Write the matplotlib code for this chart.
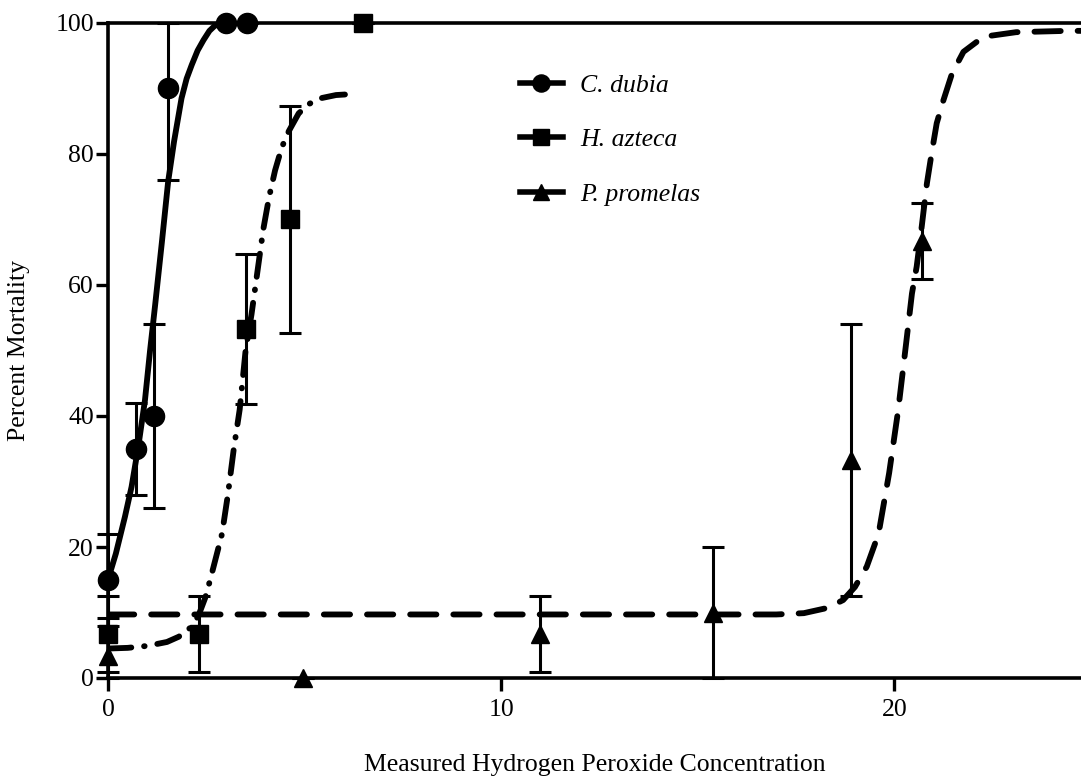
import numpy as np
import matplotlib
matplotlib.use("Agg")
import matplotlib.pyplot as plt
from matplotlib.lines import Line2D

plt.rcParams['font.family'] = ['Liberation Serif', 'DejaVu Serif']

# C. dubia - observed points
cd_x = [0, 0.71, 1.16, 1.53, 3.0, 3.53]
cd_y = [15, 35, 40, 90, 100, 100]
cd_err = [7, 7, 14, 14, 0, 0]
# fitted curve
cd_cx = [0, 0.2, 0.43, 0.6, 0.77, 0.94, 1.07, 1.2, 1.37, 1.53, 1.68, 1.87, 2.0, 2.13, 2.28, 2.43, 2.58, 2.72, 3.0, 3.53]
cd_cy = [15, 19, 24.6, 29.2, 35.3, 42.4, 50, 57, 66.5, 75.8, 81.9, 88.5, 91.5, 93.6, 95.8, 97.4, 98.8, 99.6, 100, 100]

# H. azteca
ha_x = [0, 2.32, 3.5, 4.62, 6.49]
ha_y = [6.7, 6.7, 53.3, 70, 100]
ha_err = [5.8, 5.8, 11.5, 17.3, 0]
ha_cx = [0, 0.5, 1.0, 1.5, 1.8, 2.1, 2.3, 2.47, 2.6, 2.75, 2.9, 3.05, 3.2, 3.35, 3.5, 3.65, 3.8, 3.95, 4.1,
         4.25, 4.42, 4.6, 4.85, 5.1, 5.4, 5.8, 6.35]
ha_cy = [4.5, 4.6, 4.9, 5.5, 6.3, 7.7, 9.5, 12.2, 15.0, 18.5, 22.0, 28.0, 35.0, 41.0, 50.0, 55.5, 62.0, 68.5, 73.5,
         77.5, 81.0, 83.5, 86.2, 87.6, 88.5, 89.0, 89.2]

# P. promelas
pp_x = [0, 4.97, 11.0, 15.4, 18.9, 20.7]
pp_y = [3.3, 0, 6.7, 10, 33.3, 66.7]
pp_err = [5.8, 0, 5.8, 10, 20.8, 5.8]
pp_cx = [0, 17.0, 17.7, 18.3, 18.7, 19.0, 19.3, 19.6, 19.87, 20.1, 20.3, 20.45, 20.57, 20.7, 20.83, 20.95, 21.08,
         21.25, 21.47, 21.76, 22.27, 23.1, 24.4, 25]
pp_cy = [9.7, 9.7, 9.9, 10.7, 11.9, 13.9, 17, 22, 31.3, 40.9, 51, 58.7, 62.8, 69, 75.5, 80.1, 84.7,
         88.2, 92.3, 95.6, 97.9, 98.6, 98.8, 98.8]

series = [
    ("C. dubia", cd_x, cd_y, cd_err, cd_cx, cd_cy, 'o', 14.5, '-'),
    ("H. azteca", ha_x, ha_y, ha_err, ha_cx, ha_cy, 's', 13.5, (0, (4, 2.2, 0.1, 2.2))),
    ("P. promelas", pp_x, pp_y, pp_err, pp_cx, pp_cy, '^', 13, (0, (4.5, 2.9))),
]

fig = plt.figure(figsize=(10.81, 7.78), dpi=100)
ax = fig.add_axes([108 / 1081, 100 / 778, 973 / 1081, 655 / 778])

handles = []
for name, x, y, err, cx, cy, mk, ms, ls in series:
    ax.plot(cx, cy, color='black', lw=4.2, ls=ls, dash_capstyle='round',
            solid_capstyle='round', zorder=2)
    y = np.array(y, dtype=float)
    err = np.array(err, dtype=float)
    lo = np.minimum(err, y)
    hi = np.minimum(err, 100 - y)
    ax.errorbar(x, y, yerr=[lo, hi], fmt='none', ecolor='black', elinewidth=2.2,
                capsize=8, capthick=2.2, clip_on=False, zorder=3)
    ax.plot(x, y, ls='none', marker=mk, ms=ms, color='black', clip_on=False, zorder=4)
    handles.append(Line2D([], [], color='black', lw=4, marker=mk, ms=ms * 0.85, label=name))

ax.set_xlim(0, 24.75)
ax.set_ylim(0, 100)
ax.set_xticks([0, 10, 20])
ax.set_yticks([0, 20, 40, 60, 80, 100])

for side in ['left', 'bottom', 'top']:
    ax.spines[side].set_linewidth(2.6)
ax.spines['right'].set_visible(False)
ax.tick_params(axis='both', length=9, width=2.4, labelsize=18.5, color='black')
ax.tick_params(axis='y', pad=1)
ax.tick_params(axis='x', pad=6)

ax.set_xlabel("Measured Hydrogen Peroxide Concentration", fontsize=18.5, labelpad=24)
ax.set_ylabel("Percent Mortality", fontsize=18.5, labelpad=18)

leg = ax.legend(handles=handles, loc='upper left', bbox_to_anchor=(0.423, 0.922),
                frameon=False, handlelength=1.7, handletextpad=0.65,
                labelspacing=1.22, borderpad=0, borderaxespad=0, numpoints=1,
                prop={'style': 'italic', 'size': 18.5})

fig.savefig("out.png", dpi=100)
